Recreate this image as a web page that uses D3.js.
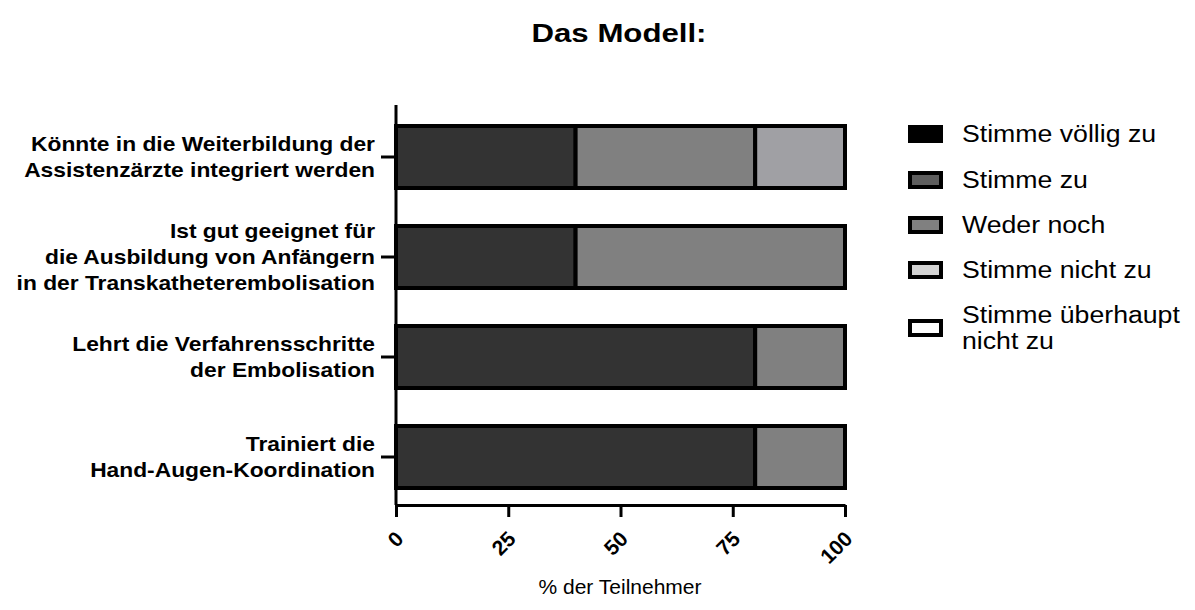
<!DOCTYPE html>
<html>
<head>
<meta charset="utf-8">
<script src="https://cdn.jsdelivr.net/npm/d3@7"></script>
<style>
    body { margin: 0; background: #fff; }
    svg { font-family: "Liberation Sans", Arial, sans-serif; }
</style>
</head>
<body>
<svg id="chart" width="1195" height="610"></svg>
<script>
// Aussagen (von oben nach unten), mehrzeilig
const statements = [
    ["Könnte in die Weiterbildung der", "Assistenzärzte integriert werden"],
    ["Ist gut geeignet für", "die Ausbildung von Anfängern", "in der Transkatheterembolisation"],
    ["Lehrt die Verfahrensschritte", "der Embolisation"],
    ["Trainiert die", "Hand-Augen-Koordination"]
];
// Antwortkategorien
const categories = ["Stimme völlig zu", "Stimme zu", "Weder noch", "Stimme nicht zu", "Stimme überhaupt nicht zu"];
// % der Teilnehmer pro Kategorie, je Aussage
const stronglyAgree = [0, 0, 0, 0];
const agree = [40, 40, 80, 80];
const neutral = [40, 60, 20, 20];
const disagree = [20, 0, 0, 0];
const stronglyDisagree = [0, 0, 0, 0];
const xTicks = [0, 25, 50, 75, 100];

const barFill = ["#000000", "#333333", "#808080", "#a0a0a4", "#ffffff"];
const legendFill = ["#000000", "#5e5e5e", "#808080", "#d3d3d3", "#ffffff"];

const svg = d3.select("#chart");
const series = [stronglyAgree, agree, neutral, disagree, stronglyDisagree];
// Schrift im Original ist leicht in die Breite gezogen
const stretch = 1.14;

const x = d3.scaleLinear().domain([0, 100]).range([396, 845]);
const y = d3.scaleBand()
    .domain(statements.map((d, i) => i))
    .range([107, 507])
    .paddingInner(0.38)
    .paddingOuter(0.19);

// Titel
svg.append("text")
    .attr("transform", `translate(619, 42) scale(1.2, 1)`)
    .attr("text-anchor", "middle")
    .style("font-size", "26px").style("font-weight", "bold")
    .text("Das Modell:");

// gestapelte Segmente
const stackRows = statements.map((s, i) => {
    let acc = 0;
    return series.map((ser, k) => {
        const seg = { row: i, cat: k, x0: acc, x1: acc + ser[i] };
        acc += ser[i];
        return seg;
    }).filter(d => d.x1 > d.x0);
});

svg.append("g").selectAll("rect")
    .data(stackRows.flat())
    .enter().append("rect")
    .attr("x", d => x(d.x0))
    .attr("y", d => y(d.row))
    .attr("width", d => x(d.x1) - x(d.x0))
    .attr("height", y.bandwidth())
    .style("fill", d => barFill[d.cat])
    .style("stroke", "#000")
    .style("stroke-width", "4px");

// y-Achse
svg.append("line")
    .attr("x1", 396).attr("x2", 396).attr("y1", 105).attr("y2", 505)
    .style("stroke", "#000").style("stroke-width", "3px");
svg.append("g").selectAll("line")
    .data(statements.map((d, i) => i))
    .enter().append("line")
    .attr("x1", 381).attr("x2", 396)
    .attr("y1", d => y(d) + y.bandwidth() / 2)
    .attr("y2", d => y(d) + y.bandwidth() / 2)
    .style("stroke", "#000").style("stroke-width", "3px");

const lineH = 26;
const ylab = svg.append("g").selectAll("text")
    .data(statements)
    .enter().append("text")
    .attr("text-anchor", "end")
    .style("font-size", "20px").style("font-weight", "bold")
    .attr("transform", (d, i) => `translate(375, ${y(i) + y.bandwidth() / 2}) scale(${stretch}, 1)`);
ylab.selectAll("tspan")
    .data(d => d.map((t, j) => ({ t, j, n: d.length })))
    .enter().append("tspan")
    .attr("x", 0)
    .attr("y", d => (d.j - (d.n - 1) / 2) * lineH + 7)
    .text(d => d.t);

// x-Achse
const xAxis = svg.append("g")
    .attr("transform", "translate(0,505)")
    .call(d3.axisBottom(x).tickValues(xTicks).tickSize(12).tickSizeOuter(0));
xAxis.select(".domain").style("stroke-width", "3px");
xAxis.selectAll(".tick line").style("stroke-width", "3px");
xAxis.selectAll(".tick text")
    .style("font-size", "21px").style("font-weight", "bold")
    .style("font-family", "'Liberation Sans', Arial, sans-serif")
    .attr("text-anchor", "end")
    .attr("dy", "0.35em")
    .attr("transform", "translate(3,30) rotate(-45)")
    .attr("y", 0).attr("x", 0);

svg.append("text")
    .attr("x", 620).attr("y", 594)
    .attr("text-anchor", "middle")
    .style("font-size", "21px")
    .text("% der Teilnehmer");

// Legende
const legendY = [134, 180, 225, 270, 328];
const leg = svg.append("g").selectAll("g")
    .data(categories)
    .enter().append("g")
    .attr("transform", (d, i) => `translate(908, ${legendY[i]})`);
leg.append("rect")
    .attr("x", 2).attr("y", -7)
    .attr("width", 31).attr("height", 14)
    .style("fill", (d, i) => legendFill[i])
    .style("stroke", "#000").style("stroke-width", "4px");
leg.append("text")
    .attr("transform", `translate(54, 0) scale(1.16, 1)`)
    .style("font-size", "23px")
    .each(function (d) {
        const words = d === "Stimme überhaupt nicht zu" ? ["Stimme überhaupt", "nicht zu"] : [d];
        d3.select(this).selectAll("tspan")
            .data(words)
            .enter().append("tspan")
            .attr("x", 0)
            .attr("y", (t, j) => (j - (words.length - 1) / 2) * 27 + 8)
            .text(t => t);
    });
</script>
</body>
</html>
